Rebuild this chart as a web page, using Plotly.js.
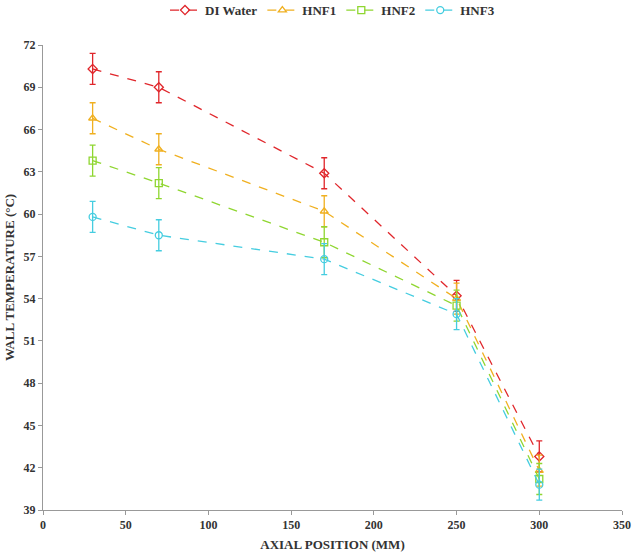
<!DOCTYPE html>
<html><head><script src="https://cdn.plot.ly/plotly-3.0.1.min.js"></script></head>
<body style="margin:0"><div id="c" style="width:640px;height:559px"></div>
<script>
var xPos = [30, 70, 170, 250, 300];
var diWater = [70.3, 69.0, 62.9, 54.2, 42.8];
var hnf1 = [66.8, 64.6, 60.2, 54.0, 41.8];
var hnf2 = [63.8, 62.2, 58.0, 53.5, 41.2];
var hnf3 = [59.8, 58.5, 56.8, 52.9, 40.8];
var errVal = 1.1;
var names = ['DI Water', 'HNF1', 'HNF2', 'HNF3'];
var colors = ['#e0262b', '#f0b020', '#8fd630', '#45cde0'];
var symbols = ['diamond-open', 'triangle-up-open', 'square-open', 'circle-open'];
var series = [diWater, hnf1, hnf2, hnf3];
var traces = series.map(function(s, i) {
  return {x: xPos, y: s, name: names[i], type: 'scatter', mode: 'lines+markers',
    line: {color: colors[i], dash: 'dash', width: 1.3},
    marker: {symbol: symbols[i], size: 7, color: colors[i], line: {width: 1.3, color: colors[i]}},
    error_y: {type: 'constant', value: errVal, color: colors[i], thickness: 1.3, width: 3}};
});
var f = {family: 'Liberation Serif, Times New Roman, serif', color: '#333', size: 12};
Plotly.newPlot('c', traces, {
  width: 640, height: 559,
  margin: {l: 43, r: 18, t: 45, b: 49, autoexpand: false},
  paper_bgcolor: '#fff', plot_bgcolor: '#fff',
  font: f,
  showlegend: true,
  legend: {orientation: 'h', x: 0.5, xanchor: 'center', y: 1.075, yanchor: 'middle', font: {family: f.family, size: 13, color: '#333', weight: 'bold'}},
  xaxis: {range: [0, 350], dtick: 50, showgrid: false, showline: true, linecolor: '#999', ticks: 'outside', ticklen: 4, tickcolor: '#999', zeroline: false, automargin: false,
    tickfont: {family: f.family, size: 12, weight: 'bold'},
    title: {text: 'AXIAL POSITION (MM)', font: {family: f.family, size: 13, weight: 'bold'}, standoff: 8}},
  yaxis: {range: [39, 72], dtick: 3, showgrid: false, showline: true, linecolor: '#999', ticks: 'outside', ticklen: 4, tickcolor: '#999', zeroline: false, automargin: false,
    tickfont: {family: f.family, size: 12, weight: 'bold'},
    title: {text: 'WALL TEMPERATURE (°C)', font: {family: f.family, size: 13, weight: 'bold'}, standoff: 6}}
}, {displayModeBar: false});
</script></body></html>
